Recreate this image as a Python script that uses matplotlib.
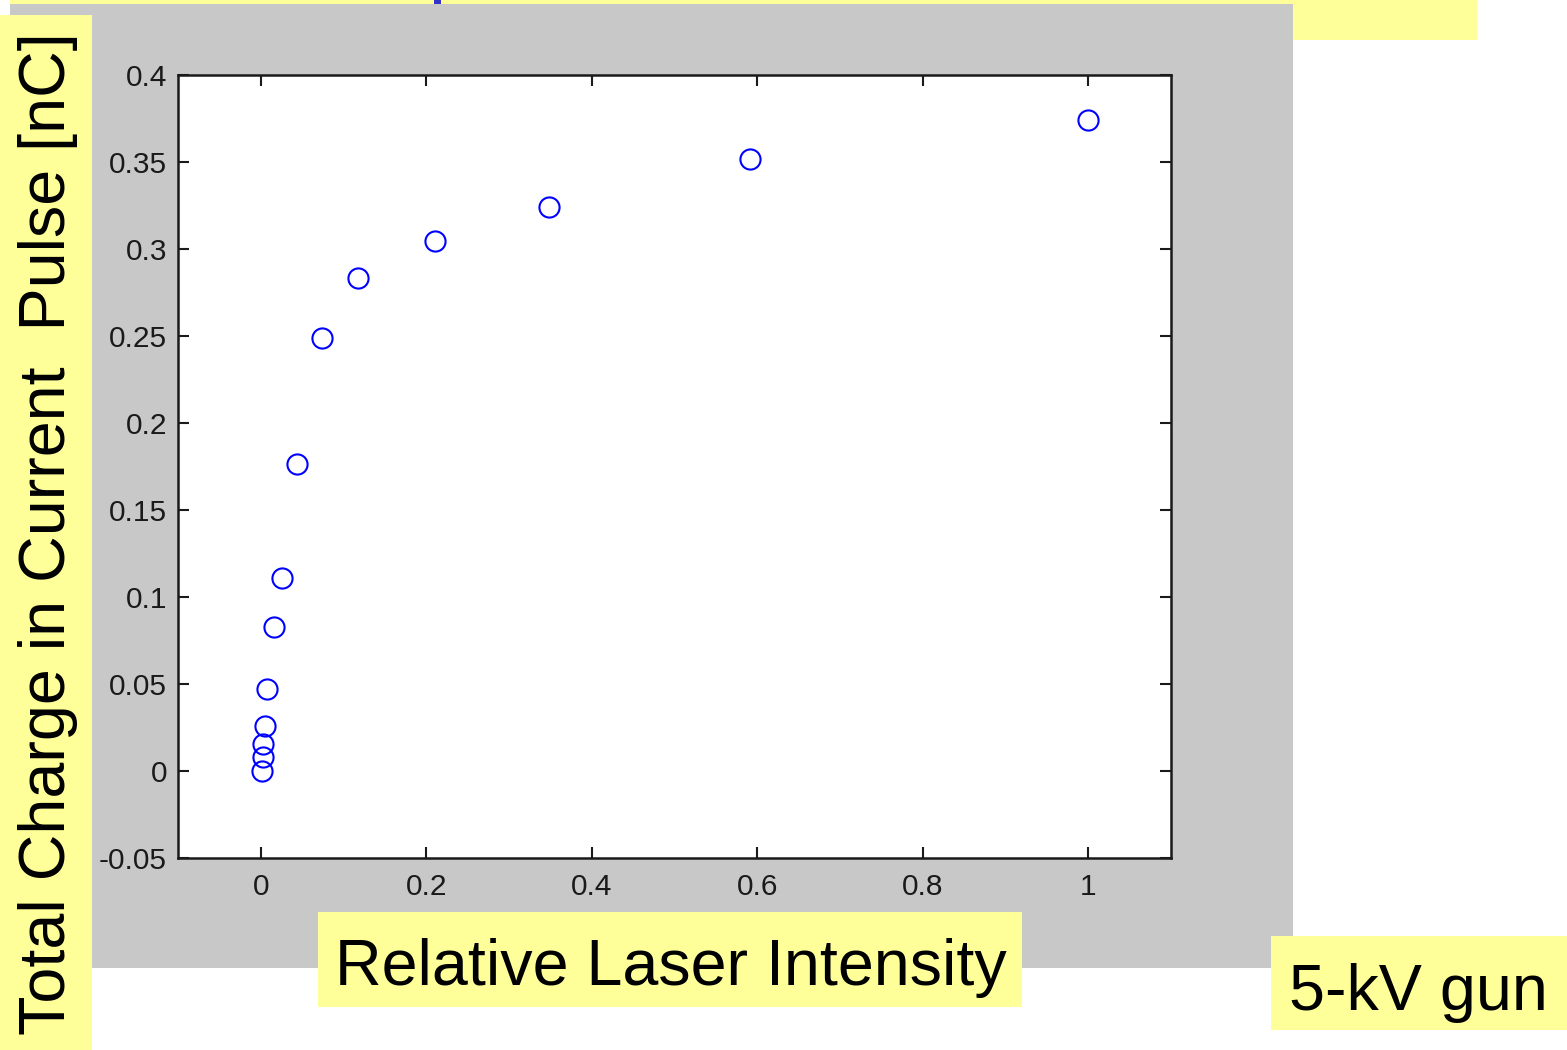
import matplotlib
matplotlib.use("Agg")
import matplotlib.pyplot as plt
from matplotlib.patches import Rectangle

# Measured charge versus relative laser intensity
intensity = [1.0, 0.591, 0.348, 0.210, 0.118, 0.0737, 0.0435, 0.0254,
             0.0157, 0.0072, 0.0048, 0.0024, 0.0024, 0.001]
charge = [0.374, 0.352, 0.324, 0.3046, 0.2833, 0.249, 0.1764, 0.1109,
          0.0828, 0.0471, 0.0259, 0.0155, 0.0080, 0.0]

xticks = [0, 0.2, 0.4, 0.6, 0.8, 1.0]
xtick_labels = ["0", "0.2", "0.4", "0.6", "0.8", "1"]
yticks = [-0.05, 0, 0.05, 0.1, 0.15, 0.2, 0.25, 0.3, 0.35, 0.4]
ytick_labels = ["-0.05", "0", "0.05", "0.1", "0.15", "0.2", "0.25",
                "0.3", "0.35", "0.4"]

W, H = 1567, 1050
YELLOW = "#FFFF99"
GRAY = "#C8C8C8"

fig = plt.figure(figsize=(W / 100, H / 100), dpi=100)
fig.patch.set_facecolor("white")


def box(x0, y0, x1, y1, color, z):
    fig.patches.append(Rectangle((x0 / W, 1 - y1 / H), (x1 - x0) / W,
                                 (y1 - y0) / H, transform=fig.transFigure,
                                 facecolor=color, edgecolor="none", zorder=z))


# Slide backdrop: title strip, figure window, label boxes
box(10, 0, 1477, 40, YELLOW, 0)
box(434, 0, 441, 5, "#3333CC", 0.5)
box(10, 4, 1293, 968, GRAY, 1)
box(0, 15, 92, 1050, YELLOW, 2)
box(318, 912, 1022, 1007, YELLOW, 2)
box(1271, 936, 1567, 1030, YELLOW, 2)

ax = fig.add_axes([178 / W, 1 - 858 / H, (1171 - 178) / W, (858 - 75) / H])
ax.set_zorder(3)
ax.set_facecolor("white")
ax.plot(intensity, charge, linestyle="none", marker="o", markersize=14.5,
        markerfacecolor="none", markeredgecolor="#0000FF",
        markeredgewidth=1.5)

ax.set_xlim(-0.1, 1.1)
ax.set_ylim(-0.05, 0.4)
ax.set_xticks(xticks)
ax.set_xticklabels(xtick_labels)
ax.set_yticks(yticks)
ax.set_yticklabels(ytick_labels)

ax.tick_params(direction="in", length=8, width=1.5, top=True, right=True,
               labelsize=21.5, colors="#1a1a1a")
ax.tick_params(axis="y", pad=8)
ax.tick_params(axis="x", pad=11)
for lab in ax.get_xticklabels() + ax.get_yticklabels():
    lab.set_family("Liberation Sans")
for sp in ax.spines.values():
    sp.set_linewidth(1.8)
    sp.set_color("#1a1a1a")

label_font = dict(family="Liberation Sans", size=46.5, color="black")
fig.text(48 / W, 1 - 534 / H, "Total Charge in Current  Pulse [nC]",
         rotation=90, ha="center", va="center", zorder=5, **label_font)
fig.text(671 / W, 1 - 985 / H, "Relative Laser Intensity",
         ha="center", va="baseline", zorder=5, **label_font)
fig.text(1418 / W, 1 - 1010 / H, "5-kV gun",
         ha="center", va="baseline", zorder=5, **label_font)

fig.savefig("out.png", dpi=100, facecolor=fig.get_facecolor())
